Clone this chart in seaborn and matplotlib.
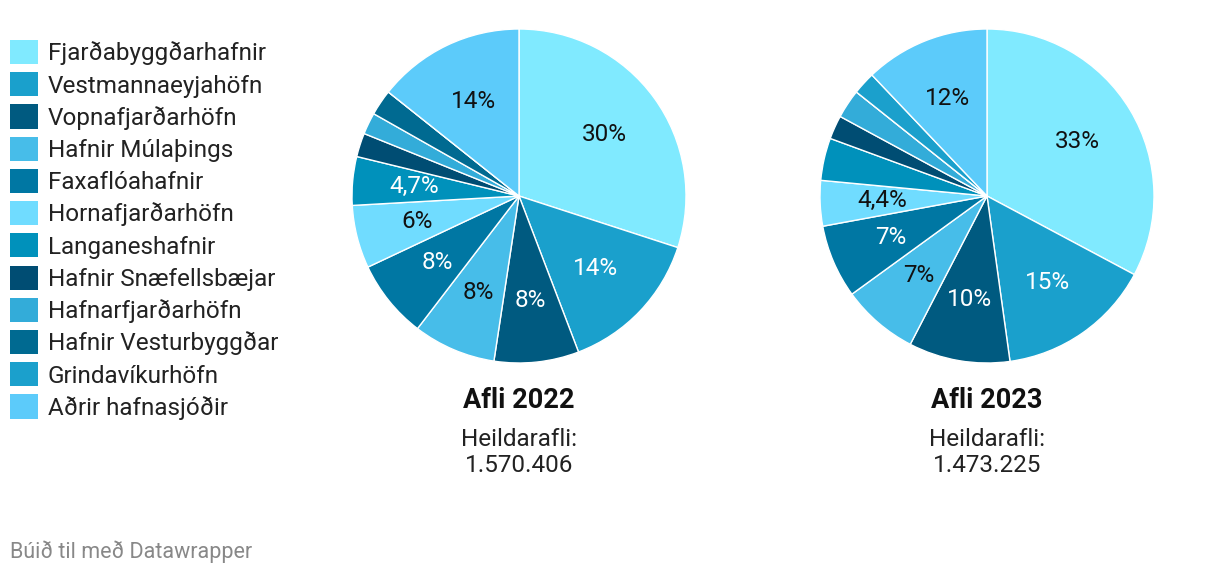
import matplotlib
matplotlib.use("Agg")
import matplotlib.pyplot as plt
from matplotlib.patches import Patch
import numpy as np
import seaborn as sns

categories = ["Fjarðabyggðarhafnir", "Vestmannaeyjahöfn", "Vopnafjarðarhöfn",
              "Hafnir Múlaþings", "Faxaflóahafnir", "Hornafjarðarhöfn",
              "Langaneshafnir", "Hafnir Snæfellsbæjar", "Hafnarfjarðarhöfn",
              "Hafnir Vesturbyggðar", "Grindavíkurhöfn", "Aðrir hafnasjóðir"]
values_2022 = [30.0, 14.2, 8.2, 8.0, 7.6, 6.1, 4.7, 2.3, 2.1, 2.5, 0.0, 14.3]
values_2023 = [32.8, 15.0, 9.8, 7.4, 7.1, 4.4, 4.1, 2.3, 2.8, 0.0, 2.2, 12.1]
titles = ["Afli 2022", "Afli 2023"]
totals = ["1.570.406", "1.473.225"]

palette = ["#80eaff", "#1aa0cc", "#005a80", "#47bde9", "#0077a3", "#70dcff",
           "#0091bb", "#004d73", "#33acd9", "#006a91", "#1ba0cc", "#5ccbfa"]
dark = [False, True, True, False, True, False, True, True, False, True, True, False]

sns.set_theme(style="white")
plt.rcParams["font.family"] = ["Roboto", "DejaVu Sans"]
colors = sns.color_palette(palette)

W, H = 1220, 576
fig = plt.figure(figsize=(W / 100, H / 100), dpi=100)


def fmt(v):
    if v >= 5:
        return f"{round(v):d}%"
    return f"{v:.1f}%".replace(".", ",")


centers = [(519, 196), (987, 196)]
R = 167
for (cx, cy), vals, title, total in zip(centers, [values_2022, values_2023], titles, totals):
    ax = fig.add_axes([(cx - R) / W, (H - cy - R) / H, 2 * R / W, 2 * R / H])
    ax.pie(vals, colors=colors, startangle=90, counterclock=False, radius=1,
           wedgeprops=dict(edgecolor="white", linewidth=1))
    ax.set_xlim(-1, 1)
    ax.set_ylim(-1, 1)
    ax.set_aspect("equal")
    ax.axis("off")
    total_v = sum(vals)
    start = 90.0
    for i, v in enumerate(vals):
        ang = start - v / total_v * 360 / 2
        start -= v / total_v * 360
        if v < 4.3:
            continue
        rad = np.deg2rad(ang)
        ax.text(0.63 * np.cos(rad), 0.63 * np.sin(rad), fmt(v),
                ha="center", va="center", fontsize=17.5,
                color="white" if dark[i] else "#111111")
    fig.text(cx / W, 1 - 400 / H, title, ha="center", va="center",
             fontsize=19.5, fontweight="bold", color="#111111")
    fig.text(cx / W, 1 - 440 / H, "Heildarafli:", ha="center", va="center",
             fontsize=17.5, color="#222222")
    fig.text(cx / W, 1 - 466 / H, total, ha="center", va="center",
             fontsize=17.5, color="#222222")

handles = [Patch(facecolor=c, edgecolor="none") for c in colors]
fig.legend(handles, categories, loc="upper left",
           bbox_to_anchor=(10 / W, 1 - 40 / H), frameon=False,
           fontsize=17.5, handlelength=1.15, handleheight=1.15,
           handletextpad=0.41, labelspacing=0.285, borderpad=0,
           borderaxespad=0, labelcolor="#222222")

fig.text(10 / W, 1 - 552 / H, "Búið til með Datawrapper", ha="left", va="center",
         fontsize=15.5, color="#888888")

fig.savefig("out.png", dpi=100, facecolor="white")
